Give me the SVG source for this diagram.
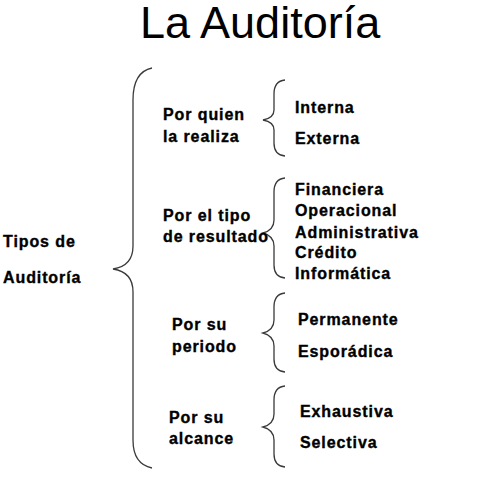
<svg xmlns="http://www.w3.org/2000/svg" width="478" height="502" viewBox="0 0 478 502">
<style>
.t{font-family:"Liberation Sans",Arial,sans-serif;font-weight:bold;font-size:16px;letter-spacing:0.9px;fill:#000;stroke:#000;stroke-width:0.35}
.title{font-family:"Liberation Sans",Arial,sans-serif;font-size:45px;fill:#000}
.b{fill:none;stroke:#3a3a3a;stroke-width:1.3}
</style>
<rect width="478" height="502" fill="#fff"/>
<text class="title" x="140" y="38">La Auditoría</text>
<g id="root">
<text class="t" x="3" y="247">Tipos de</text>
<text class="t" x="3" y="283">Auditoría</text>
</g>
<g id="connectors">
<path class="b" d="M152 68 Q133 72 133 100 L133 246 Q133 266 113 269 Q133 272 133 292 L133 440 Q133 464 152 468"/>
<path class="b" d="M285 80 Q274 81 274 94 L274 110 Q274 118 263 120 Q274 122 274 130 L274 143 Q274 155 285 156"/>
<path class="b" d="M285 178 Q274 179 274 192 L274 220 Q274 230 263 233 Q274 236 274 246 L274 265 Q274 277 285 278"/>
<path class="b" d="M285 293 Q274 294 274 307 L274 320 Q274 330 263 333 Q274 336 274 346 L274 359 Q274 371 285 372"/>
<path class="b" d="M285 386 Q274 387 274 400 L274 414 Q274 424 263 427 Q274 430 274 440 L274 454 Q274 466 285 467"/>
</g>
<g id="n-quien">
<text class="t" x="163" y="120">Por quien</text>
<text class="t" x="163" y="142">la realiza</text>
</g>
<g id="n-interna"><text class="t" x="295" y="113">Interna</text></g>
<g id="n-externa"><text class="t" x="295" y="144">Externa</text></g>
<g id="n-tipo">
<text class="t" x="163" y="221">Por el tipo</text>
<text class="t" x="163" y="242">de resultado</text>
</g>
<g id="n-financiera"><text class="t" x="295" y="195">Financiera</text></g>
<g id="n-operacional"><text class="t" x="295" y="216">Operacional</text></g>
<g id="n-administrativa"><text class="t" x="295" y="238">Administrativa</text></g>
<g id="n-credito"><text class="t" x="295" y="258">Crédito</text></g>
<g id="n-informatica"><text class="t" x="295" y="279">Informática</text></g>
<g id="n-periodo">
<text class="t" x="172" y="330">Por su</text>
<text class="t" x="172" y="352">periodo</text>
</g>
<g id="n-permanente"><text class="t" x="298" y="325">Permanente</text></g>
<g id="n-esporadica"><text class="t" x="298" y="357">Esporádica</text></g>
<g id="n-alcance">
<text class="t" x="169" y="423">Por su</text>
<text class="t" x="169" y="444">alcance</text>
</g>
<g id="n-exhaustiva"><text class="t" x="300" y="417">Exhaustiva</text></g>
<g id="n-selectiva"><text class="t" x="300" y="448">Selectiva</text></g>
</svg>
